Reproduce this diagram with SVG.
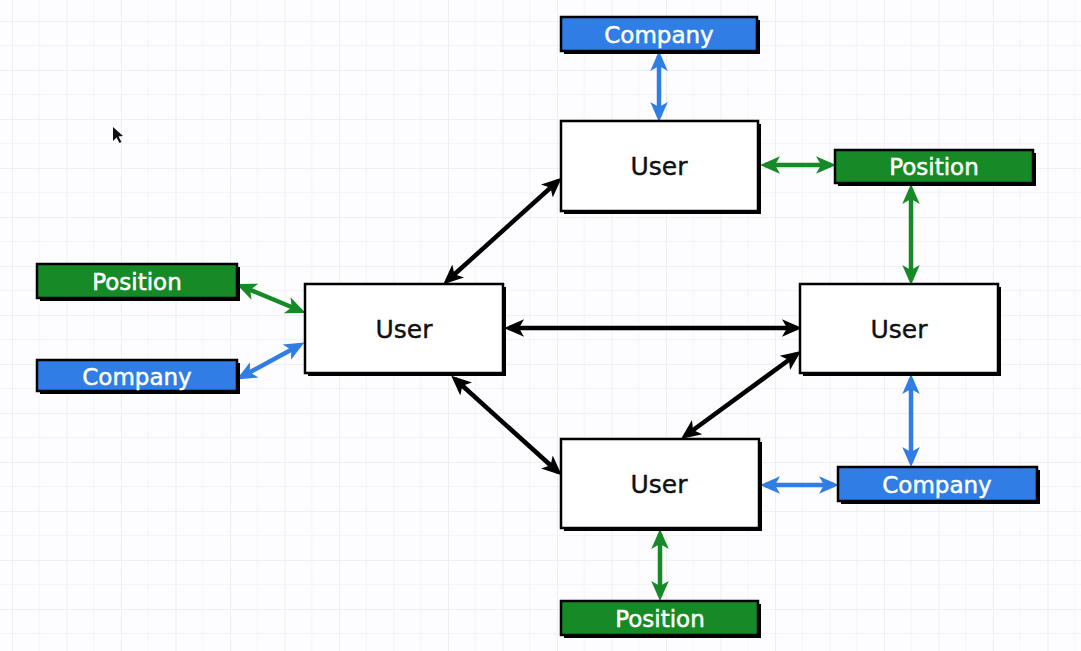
<svg xmlns="http://www.w3.org/2000/svg" width="1081" height="651" viewBox="0 0 1081 651">
  <defs>
    <pattern id="grid" x="12" y="21" width="54.5" height="49" patternUnits="userSpaceOnUse">
      <path d="M27.25 0V49M0 24.5H54.5" stroke="#f5f5f7" stroke-width="1.5" fill="none"/>
      <path d="M0 0V49M0 0H54.5" stroke="#efeff1" stroke-width="2" fill="none"/>
    </pattern>
    <marker id="ah-black" viewBox="0 0 16 16" markerWidth="20" markerHeight="20" refX="12" refY="8" orient="auto-start-reverse" markerUnits="userSpaceOnUse">
      <path d="M0 1L16 8L0 15L4 8Z" fill="#000"/>
    </marker>
    <marker id="ah-blue" viewBox="0 0 16 16" markerWidth="20" markerHeight="20" refX="12" refY="8" orient="auto-start-reverse" markerUnits="userSpaceOnUse">
      <path d="M0 1L16 8L0 15L4 8Z" fill="#2f7de5"/>
    </marker>
    <marker id="ah-green" viewBox="0 0 16 16" markerWidth="20" markerHeight="20" refX="12" refY="8" orient="auto-start-reverse" markerUnits="userSpaceOnUse">
      <path d="M0 1L16 8L0 15L4 8Z" fill="#168a26"/>
    </marker>
  </defs>
  <style>
    .shadow { fill: #000; }
    .box { stroke: #000; stroke-width: 2.5; }
    .user { fill: #fff; }
    .company { fill: #2f7de5; }
    .position { fill: #168a26; }
    .label { font-family: "DejaVu Sans", "Liberation Sans", sans-serif; text-anchor: middle; }
    .user-label { font-size: 25px; fill: #111; stroke: #111; stroke-width: 0.4; }
    .tag-label { font-size: 23px; fill: #fff; stroke: #fff; stroke-width: 0.5; }
    .link { stroke-width: 4.5; fill: none; }
    .link-black { stroke: #000; marker-start: url(#ah-black); marker-end: url(#ah-black); }
    .link-blue { stroke: #2f7de5; marker-start: url(#ah-blue); marker-end: url(#ah-blue); }
    .link-green { stroke: #168a26; marker-start: url(#ah-green); marker-end: url(#ah-green); }
  </style>

  <!-- canvas -->
  <rect width="1081" height="651" fill="#fdfcfe"/>
  <rect width="1081" height="651" fill="url(#grid)"/>

  <!-- connectors -->
  <g id="connectors">
    <line class="link link-blue" x1="659" y1="56" x2="659" y2="117"/>
    <line class="link link-green" x1="765" y1="165" x2="831" y2="165"/>
    <line class="link link-green" x1="911" y1="189" x2="911" y2="280"/>
    <line class="link link-green" x1="241" y1="286" x2="301" y2="311"/>
    <line class="link link-blue" x1="241" y1="377" x2="300" y2="345"/>
    <line class="link link-black" x1="447" y1="281" x2="558" y2="181"/>
    <line class="link link-black" x1="509" y1="328" x2="797" y2="328"/>
    <line class="link link-black" x1="455" y1="379" x2="558" y2="472"/>
    <line class="link link-black" x1="797" y1="354" x2="685" y2="436"/>
    <line class="link link-blue" x1="911" y1="379" x2="911" y2="462"/>
    <line class="link link-blue" x1="765" y1="485" x2="834" y2="485"/>
    <line class="link link-green" x1="660" y1="534" x2="660" y2="596"/>
  </g>

  <!-- users -->
  <g id="user-top">
    <rect class="shadow" x="564" y="124" width="197" height="90"/>
    <rect class="box user" x="561" y="121" width="197" height="90"/>
    <text class="label user-label" x="659" y="175">User</text>
  </g>
  <g id="user-left">
    <rect class="shadow" x="308" y="287" width="198" height="89"/>
    <rect class="box user" x="305" y="284" width="198" height="89"/>
    <text class="label user-label" x="404" y="338">User</text>
  </g>
  <g id="user-right">
    <rect class="shadow" x="803" y="287" width="198" height="89"/>
    <rect class="box user" x="800" y="284" width="198" height="89"/>
    <text class="label user-label" x="899" y="338">User</text>
  </g>
  <g id="user-bottom">
    <rect class="shadow" x="564" y="442" width="198" height="89"/>
    <rect class="box user" x="561" y="439" width="198" height="89"/>
    <text class="label user-label" x="659" y="493">User</text>
  </g>

  <!-- companies -->
  <g id="company-top">
    <rect class="shadow" x="564" y="20" width="196" height="34"/>
    <rect class="box company" x="561" y="17" width="196" height="34"/>
    <text class="label tag-label" x="659" y="43">Company</text>
  </g>
  <g id="company-left">
    <rect class="shadow" x="40" y="363" width="200" height="31"/>
    <rect class="box company" x="37" y="360" width="200" height="31"/>
    <text class="label tag-label" x="137" y="385">Company</text>
  </g>
  <g id="company-bottom-right">
    <rect class="shadow" x="841" y="470" width="199" height="34"/>
    <rect class="box company" x="838" y="467" width="199" height="34"/>
    <text class="label tag-label" x="937" y="493">Company</text>
  </g>

  <!-- positions -->
  <g id="position-right">
    <rect class="shadow" x="838" y="153" width="198" height="33"/>
    <rect class="box position" x="835" y="150" width="198" height="33"/>
    <text class="label tag-label" x="934" y="175">Position</text>
  </g>
  <g id="position-left">
    <rect class="shadow" x="40" y="267" width="200" height="34"/>
    <rect class="box position" x="37" y="264" width="200" height="34"/>
    <text class="label tag-label" x="137" y="290">Position</text>
  </g>
  <g id="position-bottom">
    <rect class="shadow" x="564" y="604" width="197" height="34"/>
    <rect class="box position" x="561" y="601" width="197" height="34"/>
    <text class="label tag-label" x="660" y="627">Position</text>
  </g>

  <!-- pointer -->
  <path d="M113 127L113 141L116.5 137.5L119.5 143L121.5 142L118.5 136.5L123 136Z" fill="#111"/>
</svg>
